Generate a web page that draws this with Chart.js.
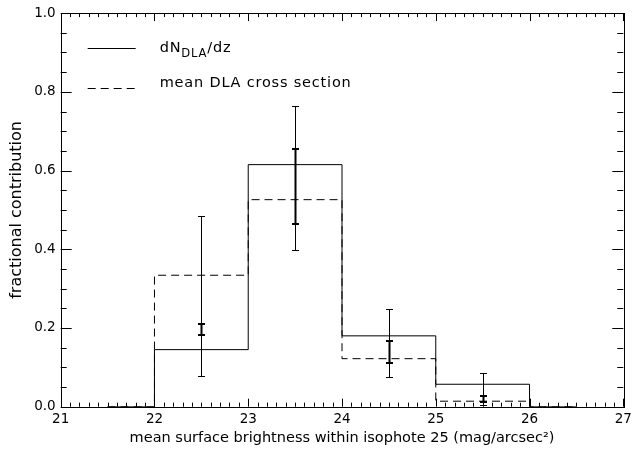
<!DOCTYPE html>
<html>
<head>
<meta charset="utf-8">
<script src="https://cdn.jsdelivr.net/npm/chart.js@4.4.1/dist/chart.umd.min.js"></script>
<style>
html,body{margin:0;padding:0;background:#fff;}
#wrap{width:640px;height:449px;position:relative;}
</style>
</head>
<body>
<div id="wrap"><canvas id="c" width="640" height="449"></canvas></div>
<script>
// ---- data ----
const binCenters = [21.5, 22.5, 23.5, 24.5, 25.5, 26.5];
const dNdz = [0, 0.145, 0.615, 0.180, 0.057, 0];
const crossSection = [0, 0.334, 0.526, 0.122, 0.014, 0];
const errX = [22.5, 23.5, 24.5, 25.5];
const outerLo = [0.079, 0.397, 0.075, 0.005];
const outerHi = [0.484, 0.763, 0.248, 0.086];
const innerLo = [0.183, 0.464, 0.111, 0.012];
const innerHi = [0.210, 0.654, 0.168, 0.028];
const xTickLabels = [21, 22, 23, 24, 25, 26, 27];
const yTickLabels = [0.0, 0.2, 0.4, 0.6, 0.8, 1.0];
const legendLabels = ['dN', 'DLA', '/dz', 'mean DLA cross section'];
const xTitle = 'mean surface brightness within isophote 25 (mag/arcsec\u00B2)';
const yTitle = 'fractional contribution';

const FONT = 'DejaVu Sans';
const INK = '#000';
const TITLE_SIZE = 14.5;
const LEG_SIZE = 14.5;

const ticksPlugin = {
  id: 'idlAxes',
  afterDraw(chart) {
    const {ctx, chartArea: a, scales: {x, y}} = chart;
    ctx.save();
    ctx.strokeStyle = INK;
    ctx.lineWidth = 1;
    ctx.strokeRect(Math.round(a.left) + 0.5, Math.round(a.top) + 0.5,
      Math.round(a.right - a.left), Math.round(a.bottom - a.top));
    ctx.beginPath();
    for (let k = 0; k <= 60; k++) {
      const v = 21 + k * 0.1;
      const px = Math.round(x.getPixelForValue(v)) + 0.5;
      const len = (k % 10 === 0) ? 8 : 4;
      ctx.moveTo(px, a.bottom); ctx.lineTo(px, a.bottom - len);
      ctx.moveTo(px, a.top); ctx.lineTo(px, a.top + len);
    }
    for (let k = 0; k <= 20; k++) {
      const v = k * 0.05;
      const py = Math.round(y.getPixelForValue(v)) + 0.5;
      const len = (k % 4 === 0) ? 11 : 6;
      ctx.moveTo(a.left, py); ctx.lineTo(a.left + len, py);
      ctx.moveTo(a.right, py); ctx.lineTo(a.right - len, py);
    }
    ctx.stroke();
    ctx.restore();
  },
  afterDatasetsDraw(chart) {
    const {ctx, scales: {x, y}, chartArea: a} = chart;
    ctx.save();
    ctx.strokeStyle = INK;
    errX.forEach((xv, i) => {
      const px = Math.round(x.getPixelForValue(xv)) + 0.5;
      const yl = Math.round(y.getPixelForValue(outerLo[i])) + 0.5;
      const yh = Math.round(y.getPixelForValue(outerHi[i])) + 0.5;
      ctx.lineWidth = 1;
      ctx.beginPath();
      ctx.moveTo(px, yl); ctx.lineTo(px, yh);
      ctx.moveTo(px - 3.5, yl); ctx.lineTo(px + 3.5, yl);
      ctx.moveTo(px - 3.5, yh); ctx.lineTo(px + 3.5, yh);
      ctx.stroke();
      const il = Math.round(y.getPixelForValue(innerLo[i]));
      const ih = Math.round(y.getPixelForValue(innerHi[i]));
      ctx.lineWidth = 2;
      ctx.beginPath();
      ctx.moveTo(px, il); ctx.lineTo(px, ih);
      ctx.moveTo(px - 3.5, il); ctx.lineTo(px + 3.5, il);
      ctx.moveTo(px - 3.5, ih); ctx.lineTo(px + 3.5, ih);
      ctx.stroke();
    });
    // legend
    const lx0 = a.left + 27, lx1 = a.left + 75;
    ctx.lineWidth = 1;
    ctx.beginPath();
    ctx.moveTo(lx0, 48.5); ctx.lineTo(lx1, 48.5);
    ctx.stroke();
    ctx.setLineDash([8, 5]);
    ctx.beginPath();
    ctx.moveTo(lx0, 88.5); ctx.lineTo(lx1, 88.5);
    ctx.stroke();
    ctx.setLineDash([]);
    ctx.fillStyle = INK;
    ctx.textBaseline = 'alphabetic';
    ctx.textAlign = 'left';
    ctx.letterSpacing = '0.8px';
    let tx = a.left + 99;
    ctx.font = LEG_SIZE + 'px "' + FONT + '"';
    ctx.fillText(legendLabels[0], tx, 52);
    tx += ctx.measureText(legendLabels[0]).width;
    ctx.font = (LEG_SIZE * 0.8) + 'px "' + FONT + '"';
    ctx.fillText(legendLabels[1], tx, 57);
    tx += ctx.measureText(legendLabels[1]).width;
    ctx.font = LEG_SIZE + 'px "' + FONT + '"';
    ctx.fillText(legendLabels[2], tx, 52);
    ctx.fillText(legendLabels[3], a.left + 99, 87);
    ctx.letterSpacing = '0px';
    ctx.restore();
  }
};

const xy = (xs, ys) => xs.map((v, i) => ({x: v, y: ys[i]}));

new Chart(document.getElementById('c'), {
  type: 'line',
  data: {
    datasets: [
      {label: 'dN/dz', data: xy(binCenters, dNdz), stepped: 'middle',
       borderColor: INK, borderWidth: 1, pointRadius: 0, fill: false},
      {label: 'mean DLA cross section', data: xy(binCenters, crossSection), stepped: 'middle',
       borderColor: INK, borderWidth: 1, borderDash: [8, 5], pointRadius: 0, fill: false}
    ]
  },
  options: {
    responsive: false,
    animation: false,
    devicePixelRatio: 1,
    layout: {padding: {top: 9, right: 16.7, left: 0, bottom: 0}},
    plugins: {legend: {display: false}, tooltip: {enabled: false}},
    scales: {
      x: {
        type: 'linear', min: 21, max: 27,
        afterFit(s) { s.height = 42.3; },
        afterBuildTicks(s) { s.ticks = xTickLabels.map(v => ({value: v})); },
        grid: {display: false, drawTicks: false},
        border: {display: false},
        ticks: {color: INK, font: {family: FONT, size: 13.5}, padding: 5,
                callback: v => String(v), maxRotation: 0, autoSkip: false},
        title: {display: true, text: xTitle, color: INK,
                font: {family: FONT, size: TITLE_SIZE}, padding: {top: 0, bottom: 2}}
      },
      y: {
        type: 'linear', min: 0, max: 1,
        afterFit(s) { s.width = 60.7; },
        afterBuildTicks(s) { s.ticks = yTickLabels.map(v => ({value: v})); },
        grid: {display: false, drawTicks: false},
        border: {display: false},
        ticks: {color: INK, font: {family: FONT, size: 13.5}, padding: 5,
                callback: v => Number(v).toFixed(1), autoSkip: false},
        title: {display: true, text: yTitle, color: INK,
                font: {family: FONT, size: 16}, padding: {top: 7, bottom: 0}}
      }
    }
  },
  plugins: [ticksPlugin]
});
</script>
</body>
</html>
